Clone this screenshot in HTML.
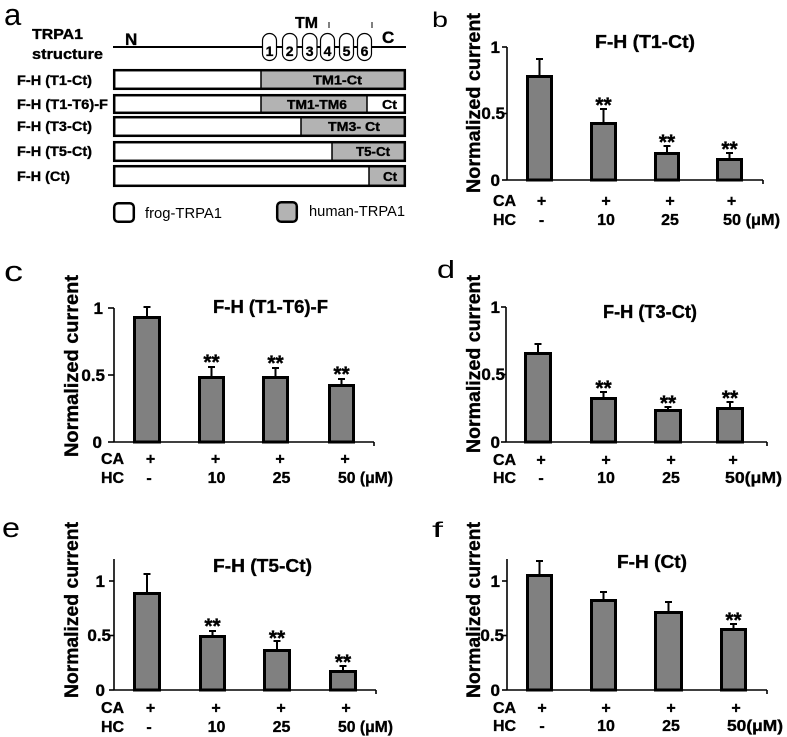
<!DOCTYPE html>
<html>
<head>
<meta charset="utf-8">
<style>
html,body{margin:0;padding:0;background:#fff;}
svg{display:block;}
text{font-family:"Liberation Sans",Arial,sans-serif;fill:#000;}
.b{font-weight:bold;stroke:#000;stroke-width:0.35px;}
</style>
</head>
<body>
<svg width="787" height="737" viewBox="0 0 787 737" xmlns="http://www.w3.org/2000/svg">
<!-- ================= Panel a ================= -->
<text x="4" y="25" font-size="31">a</text>
<text class="b" x="32" y="39" font-size="15" textLength="51" lengthAdjust="spacingAndGlyphs">TRPA1</text>
<text class="b" x="32" y="59" font-size="15" textLength="71" lengthAdjust="spacingAndGlyphs">structure</text>
<text class="b" x="125" y="45" font-size="17">N</text>
<text class="b" x="382" y="43" font-size="17">C</text>
<text class="b" x="295" y="28" font-size="16" textLength="23" lengthAdjust="spacingAndGlyphs">TM</text>
<line x1="329" y1="22" x2="329" y2="28" stroke="#000" stroke-width="1"/>
<line x1="372" y1="22" x2="372" y2="28" stroke="#000" stroke-width="1"/>
<line x1="113" y1="47" x2="406" y2="47" stroke="#000" stroke-width="2"/>
<g fill="#fff" stroke="#000" stroke-width="1.2">
<rect x="262.5" y="33.5" width="14" height="27" rx="7"/>
<rect x="282.5" y="33.5" width="14.5" height="27" rx="7"/>
<rect x="302.5" y="33.5" width="14.5" height="27" rx="7"/>
<rect x="320.5" y="33.5" width="14" height="27" rx="7"/>
<rect x="339.5" y="33.5" width="14" height="27" rx="7"/>
<rect x="357.5" y="33.5" width="14" height="27" rx="7"/>
</g>
<g font-size="14" text-anchor="middle">
<text x="269.5" y="56" class="b">1</text>
<text x="289.7" y="56" class="b">2</text>
<text x="309.7" y="56" class="b">3</text>
<text x="327.5" y="56" class="b">4</text>
<text x="346.5" y="56" class="b">5</text>
<text x="364.5" y="56" class="b">6</text>
</g>
<!-- construct rows -->
<g stroke="none">
<rect x="113" y="69" width="148" height="21" fill="#fff"/>
<rect x="261" y="69" width="145" height="21" fill="#b3b3b3"/>
<rect x="113" y="94" width="148" height="20" fill="#fff"/>
<rect x="261" y="94" width="106" height="20" fill="#b3b3b3"/>
<rect x="113" y="116" width="188" height="21" fill="#fff"/>
<rect x="301" y="116" width="105" height="21" fill="#b3b3b3"/>
<rect x="113" y="141" width="219" height="21" fill="#fff"/>
<rect x="332" y="141" width="74" height="21" fill="#b3b3b3"/>
<rect x="113" y="165" width="256" height="22" fill="#fff"/>
<rect x="369" y="165" width="37" height="22" fill="#b3b3b3"/>
</g>
<g stroke="#000" stroke-width="1.5">
<line x1="261" y1="69" x2="261" y2="90"/>
<line x1="261" y1="94" x2="261" y2="114"/>
<line x1="367" y1="94" x2="367" y2="114"/>
<line x1="301" y1="116" x2="301" y2="137"/>
<line x1="332" y1="141" x2="332" y2="162"/>
<line x1="369" y1="165" x2="369" y2="187"/>
</g>
<g fill="none" stroke="#000" stroke-width="2.5">
<rect x="114.2" y="70.2" width="290.6" height="18.6"/>
<rect x="114.2" y="95.2" width="290.6" height="17.6"/>
<rect x="114.2" y="117.2" width="290.6" height="18.6"/>
<rect x="114.2" y="142.2" width="290.6" height="18.6"/>
<rect x="114.2" y="166.2" width="290.6" height="19.6"/>
</g>
<g font-size="14">
<text class="b" x="17" y="85" textLength="75" lengthAdjust="spacingAndGlyphs">F-H (T1-Ct)</text>
<text class="b" x="17" y="109" textLength="91" lengthAdjust="spacingAndGlyphs">F-H (T1-T6)-F</text>
<text class="b" x="17" y="131" textLength="75" lengthAdjust="spacingAndGlyphs">F-H (T3-Ct)</text>
<text class="b" x="17" y="156" textLength="75" lengthAdjust="spacingAndGlyphs">F-H (T5-Ct)</text>
<text class="b" x="17" y="181" textLength="53" lengthAdjust="spacingAndGlyphs">F-H (Ct)</text>
</g>
<g font-size="13" text-anchor="middle">
<text class="b" x="337.5" y="84.5" textLength="49" lengthAdjust="spacingAndGlyphs">TM1-Ct</text>
<text class="b" x="317" y="109" textLength="60" lengthAdjust="spacingAndGlyphs">TM1-TM6</text>
<text class="b" x="389.5" y="109" textLength="15" lengthAdjust="spacingAndGlyphs">Ct</text>
<text class="b" x="354" y="131" textLength="52" lengthAdjust="spacingAndGlyphs">TM3- Ct</text>
<text class="b" x="373" y="156" textLength="34" lengthAdjust="spacingAndGlyphs">T5-Ct</text>
<text class="b" x="390" y="181" textLength="14" lengthAdjust="spacingAndGlyphs">Ct</text>
</g>
<!-- legend -->
<rect x="114.2" y="203.2" width="19.6" height="18.6" rx="4" fill="#fff" stroke="#000" stroke-width="2.5"/>
<rect x="277.2" y="202.2" width="19.6" height="19.6" rx="4" fill="#b3b3b3" stroke="#000" stroke-width="2.5"/>
<text x="145" y="218" font-size="15" textLength="77" lengthAdjust="spacingAndGlyphs">frog-TRPA1</text>
<text x="309" y="216" font-size="15" textLength="96" lengthAdjust="spacingAndGlyphs">human-TRPA1</text>

<!-- ================= Panel b ================= -->
<text x="432" y="27" font-size="21" textLength="16" lengthAdjust="spacingAndGlyphs">b</text>
<text class="b" x="645" y="48" font-size="18" text-anchor="middle" textLength="100" lengthAdjust="spacingAndGlyphs">F-H (T1-Ct)</text>
<text class="b" transform="translate(480,103) rotate(-90)" font-size="19" text-anchor="middle" textLength="180" lengthAdjust="spacingAndGlyphs">Normalized current</text>
<g stroke="#000" stroke-width="1.6" fill="none">
<line x1="507" y1="47" x2="507" y2="180"/>
<line x1="507" y1="180" x2="763" y2="180"/>
<line x1="502" y1="47" x2="507" y2="47"/>
<line x1="502" y1="113.5" x2="507" y2="113.5"/>
<line x1="502" y1="180" x2="507" y2="180"/>
<line x1="763" y1="180" x2="763" y2="184"/>
</g>
<g font-size="17" text-anchor="end">
<text class="b" x="500" y="53">1</text>
<text class="b" x="505" y="119">0.5</text>
<text class="b" x="500" y="186">0</text>
</g>
<g fill="#808080" stroke="#000" stroke-width="3">
<rect x="527.5" y="76.5" width="24" height="103.5"/>
<rect x="591.5" y="123.5" width="24" height="56.5"/>
<rect x="655.5" y="153.5" width="23" height="26.5"/>
<rect x="717.5" y="159.5" width="24" height="20.5"/>
</g>
<g stroke="#000" stroke-width="2">
<line x1="539.5" y1="75" x2="539.5" y2="59"/><line x1="536" y1="59" x2="543" y2="59"/>
<line x1="603.5" y1="122" x2="603.5" y2="109"/><line x1="600" y1="109" x2="607" y2="109"/>
<line x1="667" y1="152" x2="667" y2="146"/><line x1="663.5" y1="146" x2="670.5" y2="146"/>
<line x1="729.5" y1="158" x2="729.5" y2="153"/><line x1="726" y1="153" x2="733" y2="153"/>
</g>
<g font-size="21" text-anchor="middle">
<text class="b" x="603.5" y="112">**</text>
<text class="b" x="667" y="149">**</text>
<text class="b" x="729.5" y="156">**</text>
</g>
<g font-size="16">
<text class="b" x="493" y="206">CA</text>
<text class="b" x="493" y="225">HC</text>
</g>
<g font-size="16" text-anchor="middle">
<text class="b" x="541.5" y="206">+</text>
<text class="b" x="606" y="206">+</text>
<text class="b" x="670" y="206">+</text>
<text class="b" x="731.5" y="206">+</text>
<text class="b" x="541.5" y="225">-</text>
<text class="b" x="606" y="225">10</text>
<text class="b" x="670" y="225">25</text>
</g>
<text class="b" x="723" y="225" font-size="16" textLength="57" lengthAdjust="spacingAndGlyphs">50 (μM)</text>

<!-- ================= Panel c ================= -->
<text x="4" y="281" font-size="29" textLength="19" lengthAdjust="spacingAndGlyphs">c</text>
<text class="b" x="270.5" y="313" font-size="18" text-anchor="middle" textLength="115" lengthAdjust="spacingAndGlyphs">F-H (T1-T6)-F</text>
<text class="b" transform="translate(78,366) rotate(-90)" font-size="19" text-anchor="middle" textLength="182" lengthAdjust="spacingAndGlyphs">Normalized current</text>
<g stroke="#000" stroke-width="1.6" fill="none">
<line x1="114" y1="308" x2="114" y2="442"/>
<line x1="114" y1="442" x2="374" y2="442"/>
<line x1="108" y1="308" x2="114" y2="308"/>
<line x1="108" y1="375" x2="114" y2="375"/>
<line x1="108" y1="442" x2="114" y2="442"/>
<line x1="374" y1="442" x2="374" y2="446"/>
</g>
<g font-size="17" text-anchor="end">
<text class="b" x="103" y="314">1</text>
<text class="b" x="105" y="381">0.5</text>
<text class="b" x="102" y="448">0</text>
</g>
<g fill="#808080" stroke="#000" stroke-width="3">
<rect x="134.5" y="317.5" width="25" height="124.5"/>
<rect x="199.5" y="377.5" width="24" height="64.5"/>
<rect x="263.5" y="377.5" width="24" height="64.5"/>
<rect x="329.5" y="385.5" width="24" height="56.5"/>
</g>
<g stroke="#000" stroke-width="2">
<line x1="147" y1="316" x2="147" y2="307"/><line x1="143.5" y1="307" x2="150.5" y2="307"/>
<line x1="211.5" y1="376" x2="211.5" y2="367"/><line x1="208" y1="367" x2="215" y2="367"/>
<line x1="275.5" y1="376" x2="275.5" y2="368"/><line x1="272" y1="368" x2="279" y2="368"/>
<line x1="341.5" y1="384" x2="341.5" y2="379"/><line x1="338" y1="379" x2="345" y2="379"/>
</g>
<g font-size="21" text-anchor="middle">
<text class="b" x="211.5" y="369">**</text>
<text class="b" x="275.5" y="370">**</text>
<text class="b" x="341.5" y="381">**</text>
</g>
<g font-size="16">
<text class="b" x="101" y="464">CA</text>
<text class="b" x="101" y="483">HC</text>
</g>
<g font-size="16" text-anchor="middle">
<text class="b" x="150.5" y="464">+</text>
<text class="b" x="215.5" y="464">+</text>
<text class="b" x="280" y="464">+</text>
<text class="b" x="345" y="464">+</text>
<text class="b" x="149" y="483">-</text>
<text class="b" x="216.5" y="483">10</text>
<text class="b" x="281.5" y="483">25</text>
</g>
<text class="b" x="338" y="483" font-size="16" textLength="55" lengthAdjust="spacingAndGlyphs">50 (μM)</text>

<!-- ================= Panel d ================= -->
<text x="437" y="278" font-size="25" textLength="18" lengthAdjust="spacingAndGlyphs">d</text>
<text class="b" x="650" y="318" font-size="18" text-anchor="middle" textLength="94" lengthAdjust="spacingAndGlyphs">F-H (T3-Ct)</text>
<text class="b" transform="translate(480,364) rotate(-90)" font-size="19" text-anchor="middle" textLength="178" lengthAdjust="spacingAndGlyphs">Normalized current</text>
<g stroke="#000" stroke-width="1.6" fill="none">
<line x1="506" y1="307" x2="506" y2="442"/>
<line x1="506" y1="442" x2="767" y2="442"/>
<line x1="501" y1="307" x2="506" y2="307"/>
<line x1="501" y1="374.5" x2="506" y2="374.5"/>
<line x1="501" y1="442" x2="506" y2="442"/>
<line x1="767" y1="442" x2="767" y2="446"/>
</g>
<g font-size="17" text-anchor="end">
<text class="b" x="500" y="313">1</text>
<text class="b" x="505" y="380">0.5</text>
<text class="b" x="500" y="448">0</text>
</g>
<g fill="#808080" stroke="#000" stroke-width="3">
<rect x="525.5" y="353.5" width="25" height="88.5"/>
<rect x="591.5" y="398.5" width="24" height="43.5"/>
<rect x="655.5" y="410.5" width="25" height="31.5"/>
<rect x="717.5" y="408.5" width="25" height="33.5"/>
</g>
<g stroke="#000" stroke-width="2">
<line x1="538" y1="352" x2="538" y2="344"/><line x1="534.5" y1="344" x2="541.5" y2="344"/>
<line x1="603.5" y1="397" x2="603.5" y2="392"/><line x1="600" y1="392" x2="607" y2="392"/>
<line x1="668" y1="409" x2="668" y2="407"/><line x1="664.5" y1="407" x2="671.5" y2="407"/>
<line x1="730" y1="407" x2="730" y2="402"/><line x1="726.5" y1="402" x2="733.5" y2="402"/>
</g>
<g font-size="21" text-anchor="middle">
<text class="b" x="603.5" y="395">**</text>
<text class="b" x="668" y="410">**</text>
<text class="b" x="730" y="405">**</text>
</g>
<g font-size="16">
<text class="b" x="493" y="465">CA</text>
<text class="b" x="493" y="483">HC</text>
</g>
<g font-size="16" text-anchor="middle">
<text class="b" x="541" y="465">+</text>
<text class="b" x="606" y="465">+</text>
<text class="b" x="671" y="465">+</text>
<text class="b" x="733" y="465">+</text>
<text class="b" x="541" y="483">-</text>
<text class="b" x="606" y="483">10</text>
<text class="b" x="671" y="483">25</text>
</g>
<text class="b" x="725" y="483" font-size="16" textLength="57" lengthAdjust="spacingAndGlyphs">50(μM)</text>

<!-- ================= Panel e ================= -->
<text x="2" y="537" font-size="28" textLength="18" lengthAdjust="spacingAndGlyphs">e</text>
<text class="b" x="262.5" y="572" font-size="18" text-anchor="middle" textLength="99" lengthAdjust="spacingAndGlyphs">F-H (T5-Ct)</text>
<text class="b" transform="translate(78,610) rotate(-90)" font-size="19" text-anchor="middle" textLength="176" lengthAdjust="spacingAndGlyphs">Normalized current</text>
<g stroke="#000" stroke-width="1.6" fill="none">
<line x1="114" y1="559" x2="114" y2="690"/>
<line x1="114" y1="690" x2="376" y2="690"/>
<line x1="109" y1="581" x2="114" y2="581"/>
<line x1="109" y1="635.5" x2="114" y2="635.5"/>
<line x1="109" y1="690" x2="114" y2="690"/>
<line x1="376" y1="690" x2="376" y2="694"/>
</g>
<g font-size="17" text-anchor="end">
<text class="b" x="105" y="587">1</text>
<text class="b" x="111" y="641">0.5</text>
<text class="b" x="105" y="696">0</text>
</g>
<g fill="#808080" stroke="#000" stroke-width="3">
<rect x="134.5" y="593.5" width="25" height="96.5"/>
<rect x="200.5" y="636.5" width="24" height="53.5"/>
<rect x="264.5" y="650.5" width="25" height="39.5"/>
<rect x="330.5" y="671.5" width="25" height="18.5"/>
</g>
<g stroke="#000" stroke-width="2">
<line x1="147" y1="592" x2="147" y2="574"/><line x1="143.5" y1="574" x2="150.5" y2="574"/>
<line x1="212.5" y1="635" x2="212.5" y2="631"/><line x1="209" y1="631" x2="216" y2="631"/>
<line x1="277" y1="649" x2="277" y2="641"/><line x1="273.5" y1="641" x2="280.5" y2="641"/>
<line x1="343" y1="670" x2="343" y2="666"/><line x1="339.5" y1="666" x2="346.5" y2="666"/>
</g>
<g font-size="21" text-anchor="middle">
<text class="b" x="212.5" y="633">**</text>
<text class="b" x="277" y="645">**</text>
<text class="b" x="343" y="669">**</text>
</g>
<g font-size="16">
<text class="b" x="101" y="713">CA</text>
<text class="b" x="101" y="732">HC</text>
</g>
<g font-size="16" text-anchor="middle">
<text class="b" x="150.5" y="713">+</text>
<text class="b" x="216" y="713">+</text>
<text class="b" x="281" y="713">+</text>
<text class="b" x="346" y="713">+</text>
<text class="b" x="149" y="732">-</text>
<text class="b" x="216.5" y="732">10</text>
<text class="b" x="281.5" y="732">25</text>
</g>
<text class="b" x="338" y="732" font-size="16" textLength="55" lengthAdjust="spacingAndGlyphs">50 (μM)</text>

<!-- ================= Panel f ================= -->
<text x="432" y="537" font-size="21" textLength="11" lengthAdjust="spacingAndGlyphs">f</text>
<text class="b" x="652" y="568" font-size="18" text-anchor="middle" textLength="70" lengthAdjust="spacingAndGlyphs">F-H (Ct)</text>
<text class="b" transform="translate(480,610) rotate(-90)" font-size="19" text-anchor="middle" textLength="176" lengthAdjust="spacingAndGlyphs">Normalized current</text>
<g stroke="#000" stroke-width="1.6" fill="none">
<line x1="507" y1="559" x2="507" y2="690"/>
<line x1="507" y1="690" x2="767" y2="690"/>
<line x1="502" y1="581" x2="507" y2="581"/>
<line x1="502" y1="635.5" x2="507" y2="635.5"/>
<line x1="502" y1="690" x2="507" y2="690"/>
<line x1="767" y1="690" x2="767" y2="694"/>
</g>
<g font-size="17" text-anchor="end">
<text class="b" x="500" y="587">1</text>
<text class="b" x="504" y="641">0.5</text>
<text class="b" x="500" y="696">0</text>
</g>
<g fill="#808080" stroke="#000" stroke-width="3">
<rect x="527.5" y="575.5" width="24" height="114.5"/>
<rect x="591.5" y="600.5" width="24" height="89.5"/>
<rect x="655.5" y="612.5" width="26" height="77.5"/>
<rect x="721.5" y="629.5" width="24" height="60.5"/>
</g>
<g stroke="#000" stroke-width="2">
<line x1="539.5" y1="574" x2="539.5" y2="561"/><line x1="536" y1="561" x2="543" y2="561"/>
<line x1="603.5" y1="599" x2="603.5" y2="592"/><line x1="600" y1="592" x2="607" y2="592"/>
<line x1="668.5" y1="611" x2="668.5" y2="602"/><line x1="665" y1="602" x2="672" y2="602"/>
<line x1="733.5" y1="628" x2="733.5" y2="624"/><line x1="730" y1="624" x2="737" y2="624"/>
</g>
<g font-size="21" text-anchor="middle">
<text class="b" x="733.5" y="627">**</text>
</g>
<g font-size="16">
<text class="b" x="493" y="713">CA</text>
<text class="b" x="493" y="731">HC</text>
</g>
<g font-size="16" text-anchor="middle">
<text class="b" x="542" y="713">+</text>
<text class="b" x="606" y="713">+</text>
<text class="b" x="671" y="713">+</text>
<text class="b" x="736" y="713">+</text>
<text class="b" x="542" y="731">-</text>
<text class="b" x="606" y="731">10</text>
<text class="b" x="671" y="731">25</text>
</g>
<text class="b" x="727" y="731" font-size="16" textLength="56" lengthAdjust="spacingAndGlyphs">50(μM)</text>
</svg>
</body>
</html>
